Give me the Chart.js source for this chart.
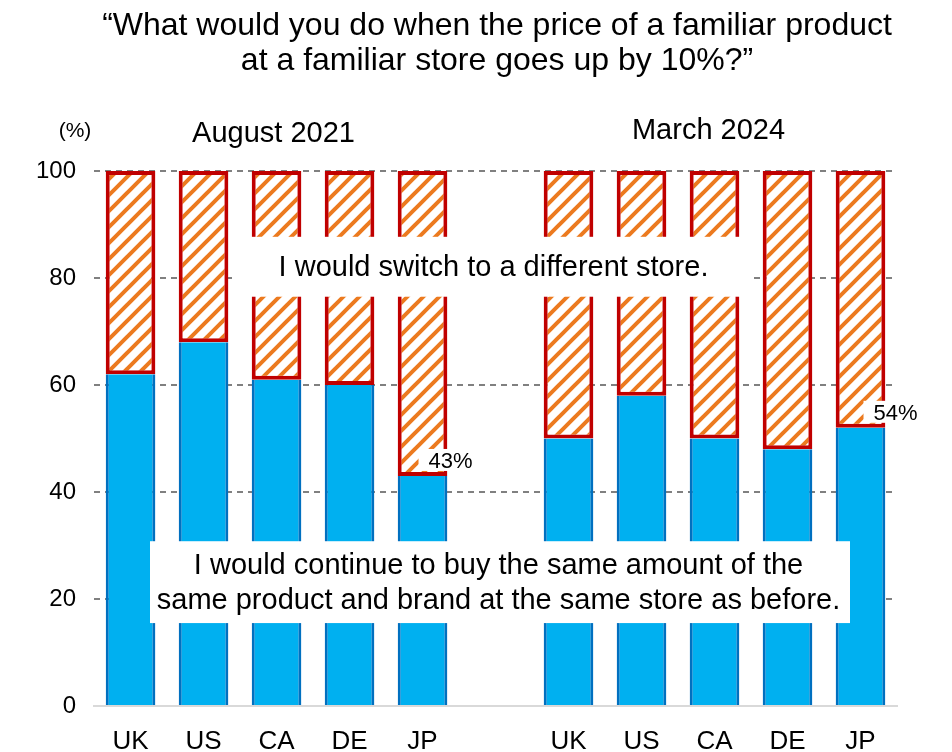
<!DOCTYPE html>
<html>
<head>
<meta charset="utf-8">
<script src="https://cdn.jsdelivr.net/npm/chart.js@4.4.1/dist/chart.umd.min.js"></script>
<style>
  html, body { margin: 0; padding: 0; background: #fff; }
  #wrap { width: 952px; height: 752px; }
</style>
</head>
<body>
<div id="wrap"><canvas id="chart" width="952" height="752"></canvas></div>
<script>
// data
const categories = ['UK', 'US', 'CA', 'DE', 'JP', '', 'UK', 'US', 'CA', 'DE', 'JP'];
const sameStore = [62, 68, 61, 60, 43, null, 50, 58, 50, 48, 52];
const switchStore = [38, 32, 39, 40, 57, null, 50, 42, 50, 52, 48];
const yTicks = [0, 20, 40, 60, 80, 100];
const periods = ['August 2021', 'March 2024'];
const titleLines = ['\u201cWhat would you do when the price of a familiar product', 'at a familiar store goes up by 10%?\u201d'];
const switchLabel = ['I would switch to a different store.'];
const sameLabel = ['I would continue to buy the same amount of the', 'same product and brand at the same store as before.'];
const callouts = ['43%', '54%'];

const FONT = '"Liberation Sans", Arial, sans-serif';

function makeHatch() {
    const s = 16;
    const c = document.createElement('canvas');
    c.width = s; c.height = s;
    const g = c.getContext('2d');
    g.fillStyle = '#ffffff';
    g.fillRect(0, 0, s, s);
    g.strokeStyle = '#ec7a1f';
    g.lineWidth = 4;
    g.beginPath();
    [0, s, 2 * s].forEach(k => {
        g.moveTo(-3, k + 3);
        g.lineTo(k + 3, -3);
    });
    g.stroke();
    return g.createPattern(c, 'repeat');
}

// titles, group names, white text boxes
const overlay = {
    id: 'overlay',
    afterDatasetsDraw(chart) {
        const { ctx, chartArea, scales } = chart;
        const x = scales.x, y = scales.y;
        ctx.save();
        ctx.fillStyle = '#000';
        ctx.textAlign = 'center';
        ctx.textBaseline = 'middle';

        ctx.font = '32px ' + FONT;
        ctx.fillText(titleLines[0], 497, 26);
        ctx.fillText(titleLines[1], 497, 61);

        ctx.font = '29px ' + FONT;
        ctx.fillText(periods[0], (x.getPixelForValue(1) + x.getPixelForValue(3)) / 2 - 3, 134);
        ctx.fillText(periods[1], (x.getPixelForValue(7) + x.getPixelForValue(9)) / 2 - 6, 131);

        ctx.font = '21px ' + FONT;
        ctx.fillText('(%)', 75, 131);

        const cx = (chartArea.left + chartArea.right) / 2;

        // switch box
        ctx.font = '29px ' + FONT;
        ctx.fillStyle = '#fff';
        ctx.fillRect(233, y.getPixelForValue(87.7), 519, y.getPixelForValue(76.5) - y.getPixelForValue(87.7));
        ctx.fillStyle = '#000';
        ctx.fillText(switchLabel[0], cx - 2, y.getPixelForValue(81.8));

        // same-store box
        ctx.fillStyle = '#fff';
        ctx.fillRect(150, y.getPixelForValue(30.8), 700, y.getPixelForValue(15.5) - y.getPixelForValue(30.8));
        ctx.fillStyle = '#000';
        ctx.fillText(sameLabel[0], cx + 3, y.getPixelForValue(26.1));
        ctx.fillText(sameLabel[1], cx + 3, y.getPixelForValue(19.7));

        // percent callouts
        ctx.font = '22px ' + FONT;
        ctx.textAlign = 'left';
        const spots = [[4, 45.8, 6], [10, 54.8, 13]];
        spots.forEach(([i, v, dx], n) => {
            const px = x.getPixelForValue(i) + dx;
            const py = y.getPixelForValue(v);
            const w = ctx.measureText(callouts[n]).width;
            ctx.fillStyle = '#fff';
            ctx.fillRect(px - 10, py - 12, w + 10, 22);
            ctx.fillStyle = '#000';
            ctx.fillText(callouts[n], px, py + 1);
        });
        ctx.restore();
    }
};

const ctx = document.getElementById('chart').getContext('2d');

new Chart(ctx, {
    type: 'bar',
    data: {
        labels: categories,
        datasets: [{
            label: 'same store',
            data: sameStore,
            backgroundColor: '#00b0f0',
            borderColor: '#0070c0',
            borderWidth: { left: 3, right: 3, top: 0, bottom: 0 },
            borderSkipped: false,
            barPercentage: 0.68,
            categoryPercentage: 1
        }, {
            label: 'switch store',
            data: switchStore,
            backgroundColor: makeHatch(),
            borderColor: '#c00000',
            borderWidth: 4,
            borderSkipped: false,
            barPercentage: 0.68,
            categoryPercentage: 1
        }]
    },
    options: {
        responsive: false,
        animation: false,
        layout: { padding: { top: 171, left: 18, right: 55, bottom: 0 } },
        plugins: { legend: { display: false }, tooltip: { enabled: false } },
        scales: {
            x: {
                stacked: true,
                grid: { display: false },
                border: { color: '#d9d9d9', width: 2 },
                ticks: { color: '#000', font: { family: FONT, size: 26 }, padding: 12, maxRotation: 0 },
                afterFit: axis => { axis.height = 46; }
            },
            y: {
                stacked: true,
                min: 0,
                max: 100,
                afterBuildTicks: axis => { axis.ticks = yTicks.map(v => ({ value: v })); },
                grid: {
                    color: c => c.tick && c.tick.value === 0 ? 'rgba(0,0,0,0)' : '#808080',
                    lineWidth: 2,
                    drawTicks: false
                },
                border: { display: false, dash: [6, 5] },
                ticks: { color: '#000', font: { family: FONT, size: 24 }, padding: 18 }
            }
        }
    },
    plugins: [overlay]
});
</script>
</body>
</html>
